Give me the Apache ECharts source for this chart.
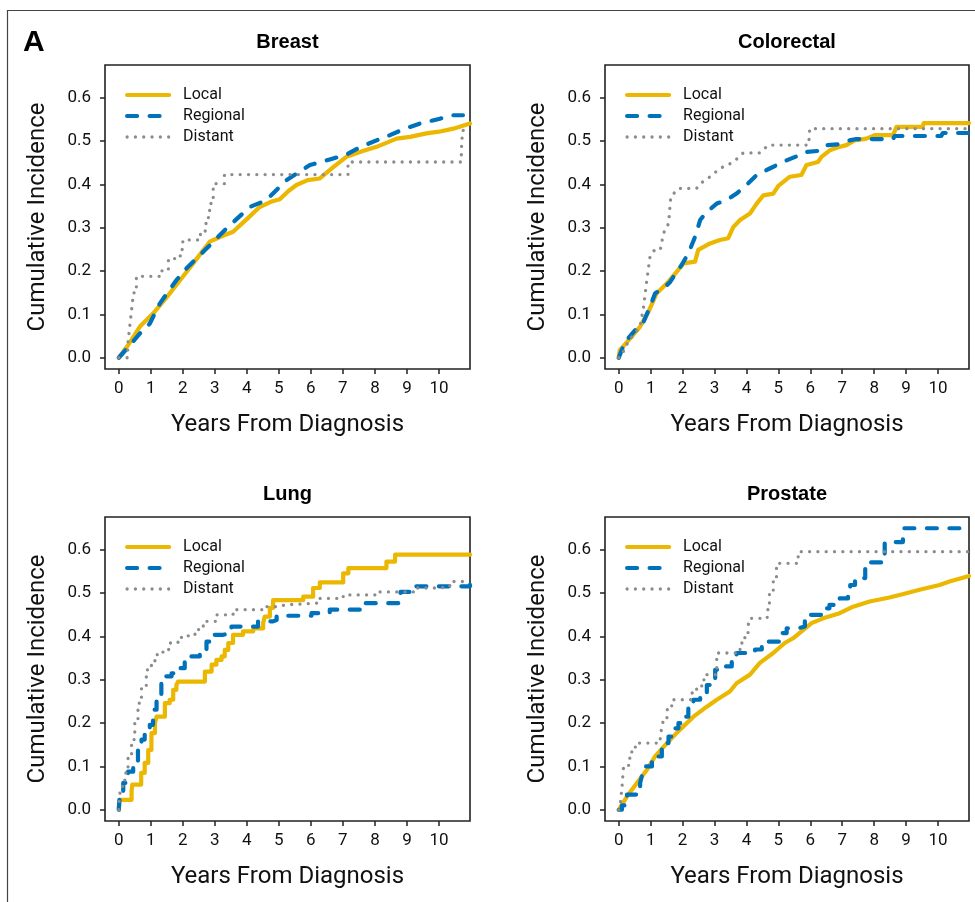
<!DOCTYPE html>
<html><head><meta charset="utf-8">
<script src="https://cdn.jsdelivr.net/npm/echarts@6/dist/echarts.min.js"></script>
<style>html,body{margin:0;padding:0;background:#fff}#c{width:975px;height:902px}</style>
</head><body><div id="c"></div>
<script>
// ---------------- data ----------------
const panelTitles = ['Breast', 'Colorectal', 'Lung', 'Prostate'];
const stageNames = ['Local', 'Regional', 'Distant'];
const xTicks = [0, 1, 2, 3, 4, 5, 6, 7, 8, 9, 10];
const yTicks = [0, 0.1, 0.2, 0.3, 0.4, 0.5, 0.6];
const xAxisTitle = 'Years From Diagnosis';
const yAxisTitle = 'Cumulative Incidence';
const panelLetter = 'A';

const breastLocal = [[0,0],[0.3,0.03],[0.66,0.072],[1.07,0.102],[1.5,0.14],[2.0,0.187],[2.45,0.23],[2.84,0.268],[3.2,0.28],[3.57,0.291],[4.0,0.32],[4.4,0.348],[4.75,0.36],[5.03,0.366],[5.3,0.385],[5.55,0.399],[5.9,0.41],[6.28,0.414],[6.7,0.44],[7.11,0.464],[7.6,0.477],[8.05,0.487],[8.68,0.506],[9.1,0.51],[9.61,0.518],[10.0,0.522],[10.45,0.529],[10.97,0.541]];
const breastRegional = [[0,0],[0.3,0.025],[0.66,0.056],[0.97,0.079],[1.28,0.125],[1.8,0.179],[2.11,0.206],[2.74,0.252],[3.37,0.299],[4.09,0.348],[4.61,0.364],[5.24,0.41],[5.97,0.445],[6.59,0.458],[7.11,0.469],[7.53,0.486],[8.05,0.502],[8.47,0.514],[8.94,0.529],[9.41,0.541],[10.03,0.552],[10.45,0.56],[10.75,0.56]];
const breastDistant = [[0,0],[0.28,0.03],[0.34,0.07],[0.4,0.11],[0.46,0.15],[0.55,0.188],[1.35,0.205],[1.55,0.229],[1.92,0.25],[2.0,0.272],[2.55,0.285],[2.7,0.31],[2.8,0.34],[2.88,0.37],[2.95,0.402],[3.3,0.423],[7.16,0.452],[10.7,0.48],[10.72,0.505],[10.74,0.525],[10.97,0.525]];

const colorectalLocal = [[0,0],[0.03,0.017],[0.36,0.045],[0.67,0.072],[0.93,0.106],[1.19,0.149],[1.51,0.172],[1.82,0.199],[2.03,0.218],[2.39,0.222],[2.49,0.249],[2.86,0.264],[3.17,0.272],[3.43,0.276],[3.59,0.302],[3.8,0.318],[4.11,0.333],[4.32,0.356],[4.53,0.375],[4.84,0.379],[5.0,0.397],[5.36,0.418],[5.72,0.422],[5.88,0.445],[6.24,0.452],[6.35,0.464],[6.61,0.479],[6.87,0.486],[7.13,0.491],[7.39,0.502],[7.76,0.506],[8.02,0.514],[8.59,0.514],[8.7,0.533],[9.52,0.533],[9.55,0.542],[10.97,0.542]];
const colorectalRegional = [[0,0],[0.2,0.037],[0.52,0.064],[0.78,0.083],[0.98,0.118],[1.14,0.149],[1.4,0.16],[1.61,0.175],[1.82,0.199],[1.97,0.214],[2.18,0.241],[2.39,0.279],[2.55,0.318],[2.76,0.337],[3.07,0.356],[3.38,0.364],[3.69,0.379],[4.0,0.399],[4.32,0.422],[4.73,0.437],[5.2,0.454],[5.67,0.468],[5.83,0.475],[6.3,0.478],[6.51,0.491],[6.87,0.493],[7.23,0.502],[7.44,0.505],[8.59,0.505],[8.64,0.512],[10.1,0.512],[10.15,0.519],[10.97,0.519]];
const colorectalDistant = [[0,0],[0.1,0.005],[0.2,0.025],[0.41,0.048],[0.67,0.072],[0.78,0.118],[0.88,0.179],[0.98,0.233],[1.09,0.247],[1.3,0.248],[1.4,0.287],[1.56,0.31],[1.63,0.372],[1.87,0.391],[2.44,0.391],[2.55,0.402],[2.86,0.418],[3.17,0.437],[3.59,0.452],[3.9,0.473],[4.42,0.473],[4.68,0.491],[5.95,0.491],[5.98,0.529],[10.97,0.529]];

const lungLocal = [[0,0],[0.02,0.023],[0.4,0.042],[0.42,0.058],[0.7,0.085],[0.81,0.108],[0.92,0.138],[1.02,0.177],[1.13,0.2],[1.18,0.215],[1.44,0.246],[1.59,0.254],[1.7,0.277],[1.8,0.288],[1.85,0.296],[2.69,0.319],[2.9,0.335],[3.05,0.346],[3.21,0.354],[3.31,0.369],[3.42,0.385],[3.57,0.404],[3.88,0.412],[4.2,0.419],[4.51,0.431],[4.56,0.446],[4.72,0.466],[4.82,0.484],[5.76,0.492],[6.07,0.512],[6.28,0.525],[7.01,0.546],[7.17,0.558],[8.36,0.573],[8.63,0.589],[10.97,0.589]];
const lungRegional = [[0,0],[0.03,0.031],[0.14,0.062],[0.29,0.088],[0.45,0.108],[0.6,0.138],[0.71,0.162],[0.81,0.185],[0.97,0.196],[1.07,0.231],[1.18,0.254],[1.33,0.292],[1.44,0.308],[1.65,0.315],[1.85,0.327],[2.06,0.346],[2.27,0.354],[2.53,0.369],[2.74,0.388],[2.9,0.404],[3.26,0.408],[3.52,0.423],[4.35,0.435],[4.82,0.438],[4.93,0.448],[6.02,0.454],[6.59,0.462],[7.63,0.477],[8.8,0.503],[9.2,0.516],[10.97,0.52]];
const lungDistant = [[0,0],[0.02,0.031],[0.08,0.054],[0.19,0.085],[0.29,0.119],[0.4,0.162],[0.5,0.208],[0.6,0.246],[0.71,0.285],[0.86,0.323],[1.02,0.342],[1.13,0.358],[1.38,0.37],[1.59,0.385],[1.85,0.398],[2.17,0.404],[2.38,0.416],[2.64,0.435],[3.05,0.45],[3.57,0.462],[4.61,0.469],[5.03,0.473],[5.19,0.475],[5.66,0.477],[6.18,0.488],[7.01,0.496],[8.16,0.503],[9.2,0.512],[10.03,0.515],[10.34,0.527],[10.97,0.527]];

const prostateLocal = [[0,0],[0.26,0.031],[0.57,0.062],[0.88,0.092],[1.14,0.123],[1.51,0.154],[1.92,0.185],[2.34,0.215],[2.76,0.238],[3.07,0.254],[3.48,0.273],[3.69,0.292],[4.11,0.312],[4.42,0.339],[4.84,0.362],[5.2,0.385],[5.46,0.396],[6.04,0.431],[6.4,0.442],[6.92,0.454],[7.34,0.469],[7.86,0.481],[8.48,0.49],[9.01,0.5],[9.42,0.508],[10.05,0.519],[10.36,0.527],[10.97,0.54]];
const prostateRegional = [[0,0],[0.1,0.01],[0.26,0.035],[0.57,0.046],[0.67,0.062],[0.72,0.077],[0.78,0.1],[1.04,0.123],[1.35,0.154],[1.56,0.169],[1.66,0.188],[1.87,0.2],[1.97,0.215],[2.18,0.238],[2.34,0.254],[2.55,0.269],[2.76,0.288],[2.91,0.304],[3.02,0.323],[3.1,0.331],[3.54,0.342],[3.69,0.362],[4.27,0.37],[4.48,0.377],[4.68,0.388],[5.1,0.408],[5.26,0.419],[5.62,0.423],[5.83,0.45],[6.4,0.465],[6.6,0.473],[6.92,0.488],[7.18,0.504],[7.25,0.519],[7.4,0.535],[7.72,0.571],[8.33,0.618],[8.9,0.65],[10.97,0.65]];
const prostateDistant = [[0,0],[0.05,0.015],[0.1,0.05],[0.15,0.1],[0.31,0.119],[0.41,0.142],[0.52,0.154],[1.3,0.169],[1.35,0.19],[1.4,0.208],[1.51,0.231],[1.66,0.254],[2.3,0.273],[2.44,0.285],[2.6,0.3],[2.76,0.312],[3.07,0.362],[3.8,0.385],[3.95,0.4],[4.05,0.423],[4.09,0.442],[4.65,0.462],[4.72,0.5],[4.84,0.531],[4.94,0.569],[5.62,0.596],[10.97,0.596]];

const panelSeries = [
  [breastLocal, breastRegional, breastDistant],
  [colorectalLocal, colorectalRegional, colorectalDistant],
  [lungLocal, lungRegional, lungDistant],
  [prostateLocal, prostateRegional, prostateDistant]
];

// ---------------- layout & style ----------------
const gridPos = [
  {left: 105, top: 65}, {left: 605, top: 65},
  {left: 105, top: 517}, {left: 605, top: 517}
];
const gridW = [365, 364, 365, 364];
const gridH = 304;
const panelSteps = [[false,false,true],[false,false,false],[true,true,true],[false,true,true]];
const stageStyles = [
  {color: '#EBB700', width: 4.2, type: 'solid', cap: 'round'},
  {color: '#0072BC', width: 4.2, type: [10, 12.5], cap: 'round'},
  {color: '#8C8C8C', width: 3.3, type: [0.01, 8.3], cap: 'round'}
];
const FONT = 'Roboto, "Liberation Sans", sans-serif';

const grids = [], xAxes = [], yAxes = [], series = [], legends = [], graphics = [];

gridPos.forEach((g, i) => {
  grids.push({left: g.left, top: g.top, width: gridW[i], height: gridH, show: true,
    borderColor: '#222', borderWidth: 1.6, backgroundColor: 'transparent', containLabel: false});
  xAxes.push({
    type: 'value', gridIndex: i, min: -0.43, max: 10.97,
    name: xAxisTitle, nameLocation: 'middle', nameGap: 44,
    nameTextStyle: {fontSize: 24, fontFamily: FONT, color: '#111'},
    axisLine: {show: false, onZero: false},
    axisTick: {show: true, length: 5, inside: false, customValues: xTicks, lineStyle: {color: '#222', width: 1.5}},
    axisLabel: {show: true, margin: 11, fontSize: 17, fontFamily: FONT, color: '#111', customValues: xTicks,
      formatter: v => String(Math.round(v))},
    splitLine: {show: false}
  });
  yAxes.push({
    type: 'value', gridIndex: i, min: -0.026, max: 0.676,
    name: yAxisTitle, nameLocation: 'middle', nameGap: 55, nameRotate: 90,
    nameTextStyle: {fontSize: 24, fontFamily: FONT, color: '#111'},
    axisLine: {show: false, onZero: false},
    axisTick: {show: true, length: 5, inside: false, customValues: yTicks, lineStyle: {color: '#222', width: 1.5}},
    axisLabel: {show: true, margin: 14, fontSize: 17, fontFamily: FONT, color: '#111', customValues: yTicks,
      formatter: v => v.toFixed(1)},
    splitLine: {show: false}
  });
  panelSeries[i].forEach((data, k) => {
    const s = stageStyles[k];
    series.push({
      type: 'line', name: stageNames[k], xAxisIndex: i, yAxisIndex: i,
      data: data, step: panelSteps[i][k] ? 'end' : false,
      symbol: 'none', showSymbol: false, smooth: false, animation: false, clip: true,
      lineStyle: {color: s.color, width: s.width, type: s.type, cap: s.cap, join: 'round'},
      itemStyle: {color: s.color},
      emphasis: {disabled: true}, z: 2 + k
    });
  });
  legends.push({
    data: stageNames, orient: 'vertical', left: g.left + 20, top: g.top + 19.5,
    itemWidth: 42, itemHeight: 14, itemGap: 0, padding: 0, selectedMode: false,
    itemStyle: {opacity: 0},
    lineStyle: {width: 'inherit', type: 'inherit', cap: 'inherit', color: 'inherit'},
    textStyle: {fontSize: 16, fontFamily: FONT, color: '#111', lineHeight: 21, padding: [0, 0, 0, 9]}
  });
  graphics.push({
    type: 'text', x: g.left + gridW[i] / 2, y: g.top - 23,
    style: {text: panelTitles[i], font: 'bold 20px "Liberation Sans", Arial, sans-serif', fill: '#000',
      textAlign: 'center', textVerticalAlign: 'middle'}
  });
});

graphics.push({type: 'polyline', shape: {points: [[7.5, 902], [7.5, 10.5], [975, 10.5]]},
  style: {stroke: '#444', lineWidth: 1.2, fill: null}});
graphics.push({type: 'text', x: 23, y: 43,
  style: {text: panelLetter, font: 'bold 30px "Liberation Sans", Arial, sans-serif', fill: '#000',
    textAlign: 'left', textVerticalAlign: 'middle'}});

const chart = echarts.init(document.getElementById('c'), null, {renderer: 'canvas'});
chart.setOption({
  animation: false,
  backgroundColor: '#fff',
  grid: grids, xAxis: xAxes, yAxis: yAxes, series: series, legend: legends,
  graphic: graphics
});
</script></body></html>
